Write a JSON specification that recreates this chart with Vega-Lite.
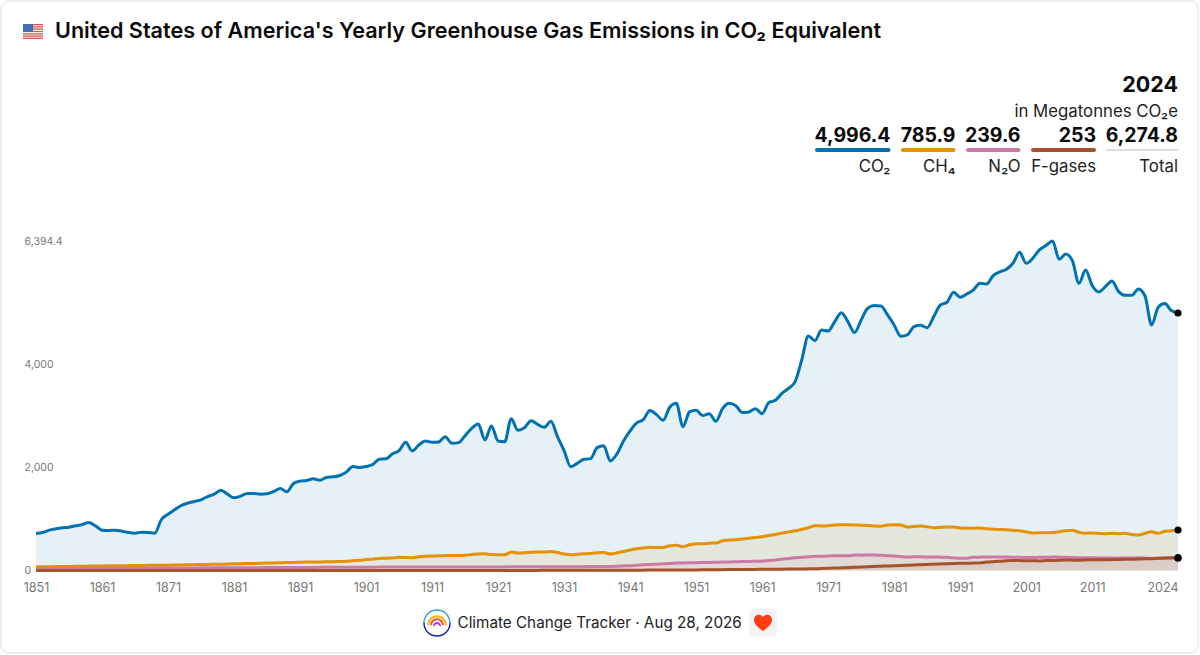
{
  "$schema": "https://vega.github.io/schema/vega-lite/v6.json",
  "width": 1142,
  "height": 329.5,
  "autosize": "none",
  "padding": {"left": 36, "top": 241, "right": 22, "bottom": 84.5},
  "background": "#ffffff",
  "view": {"stroke": null},
  "title": {
    "text": "United States of America's Yearly Greenhouse Gas Emissions in CO₂ Equivalent",
    "anchor": "start",
    "frame": "group",
    "offset": 0,
    "dy": 43,
    "dx": 19,
    "font": "Inter",
    "fontSize": 21.6,
    "fontWeight": 600,
    "color": "#0b0b0b"
  },
  "config": {"font": "Inter", "text": {"font": "Inter"}},
  "datasets": {
    "emissions": [
      {"year":1851,"co2":718,"ch4":71,"n2o":40,"fgas":0},{"year":1852,"co2":738,"ch4":72,"n2o":40,"fgas":0},{"year":1853,"co2":783,"ch4":74,"n2o":41,"fgas":0},{"year":1854,"co2":809,"ch4":76,"n2o":41,"fgas":0},{"year":1855,"co2":828,"ch4":78,"n2o":42,"fgas":0},{"year":1856,"co2":841,"ch4":79,"n2o":42,"fgas":0},{"year":1857,"co2":867,"ch4":81,"n2o":42,"fgas":0},{"year":1858,"co2":893,"ch4":83,"n2o":43,"fgas":0},{"year":1859,"co2":932,"ch4":85,"n2o":43,"fgas":0},{"year":1860,"co2":867,"ch4":87,"n2o":44,"fgas":0},
      {"year":1861,"co2":783,"ch4":88,"n2o":44,"fgas":0},{"year":1862,"co2":776,"ch4":90,"n2o":44,"fgas":0},{"year":1863,"co2":783,"ch4":92,"n2o":45,"fgas":0},{"year":1864,"co2":763,"ch4":93,"n2o":45,"fgas":0},{"year":1865,"co2":738,"ch4":95,"n2o":46,"fgas":0},{"year":1866,"co2":725,"ch4":96,"n2o":46,"fgas":0},{"year":1867,"co2":744,"ch4":98,"n2o":46,"fgas":0},{"year":1868,"co2":738,"ch4":100,"n2o":47,"fgas":0},{"year":1869,"co2":725,"ch4":101,"n2o":47,"fgas":0},{"year":1870,"co2":990,"ch4":103,"n2o":48,"fgas":0},
      {"year":1871,"co2":1093,"ch4":104,"n2o":48,"fgas":0},{"year":1872,"co2":1178,"ch4":106,"n2o":49,"fgas":0},{"year":1873,"co2":1262,"ch4":109,"n2o":49,"fgas":0},{"year":1874,"co2":1307,"ch4":111,"n2o":50,"fgas":0},{"year":1875,"co2":1339,"ch4":113,"n2o":50,"fgas":0},{"year":1876,"co2":1372,"ch4":116,"n2o":51,"fgas":0},{"year":1877,"co2":1436,"ch4":118,"n2o":51,"fgas":0},{"year":1878,"co2":1482,"ch4":120,"n2o":52,"fgas":0},{"year":1879,"co2":1559,"ch4":122,"n2o":52,"fgas":0},{"year":1880,"co2":1482,"ch4":125,"n2o":53,"fgas":0},
      {"year":1881,"co2":1410,"ch4":129,"n2o":53,"fgas":0},{"year":1882,"co2":1443,"ch4":132,"n2o":54,"fgas":0},{"year":1883,"co2":1495,"ch4":135,"n2o":54,"fgas":0},{"year":1884,"co2":1495,"ch4":138,"n2o":55,"fgas":0},{"year":1885,"co2":1482,"ch4":141,"n2o":55,"fgas":0},{"year":1886,"co2":1488,"ch4":144,"n2o":56,"fgas":0},{"year":1887,"co2":1533,"ch4":147,"n2o":56,"fgas":0},{"year":1888,"co2":1592,"ch4":150,"n2o":57,"fgas":0},{"year":1889,"co2":1527,"ch4":153,"n2o":57,"fgas":0},{"year":1890,"co2":1689,"ch4":157,"n2o":58,"fgas":0},
      {"year":1891,"co2":1734,"ch4":162,"n2o":59,"fgas":0},{"year":1892,"co2":1747,"ch4":164,"n2o":59,"fgas":0},{"year":1893,"co2":1779,"ch4":166,"n2o":60,"fgas":0},{"year":1894,"co2":1753,"ch4":167,"n2o":61,"fgas":0},{"year":1895,"co2":1805,"ch4":168,"n2o":61,"fgas":0},{"year":1896,"co2":1818,"ch4":170,"n2o":62,"fgas":0},{"year":1897,"co2":1844,"ch4":175,"n2o":63,"fgas":0},{"year":1898,"co2":1909,"ch4":180,"n2o":63,"fgas":0},{"year":1899,"co2":2019,"ch4":190,"n2o":64,"fgas":0},{"year":1900,"co2":1999,"ch4":200,"n2o":65,"fgas":0},
      {"year":1901,"co2":2019,"ch4":213,"n2o":65,"fgas":1},{"year":1902,"co2":2057,"ch4":220,"n2o":65,"fgas":1},{"year":1903,"co2":2161,"ch4":235,"n2o":66,"fgas":1},{"year":1904,"co2":2167,"ch4":237,"n2o":66,"fgas":1},{"year":1905,"co2":2264,"ch4":245,"n2o":66,"fgas":1},{"year":1906,"co2":2325,"ch4":255,"n2o":66,"fgas":1},{"year":1907,"co2":2488,"ch4":250,"n2o":66,"fgas":1},{"year":1908,"co2":2320,"ch4":248,"n2o":66,"fgas":1},{"year":1909,"co2":2436,"ch4":265,"n2o":67,"fgas":1},{"year":1910,"co2":2514,"ch4":275,"n2o":67,"fgas":1},
      {"year":1911,"co2":2488,"ch4":281,"n2o":67,"fgas":1},{"year":1912,"co2":2494,"ch4":285,"n2o":67,"fgas":1},{"year":1913,"co2":2598,"ch4":288,"n2o":68,"fgas":1},{"year":1914,"co2":2468,"ch4":292,"n2o":68,"fgas":1},{"year":1915,"co2":2481,"ch4":290,"n2o":68,"fgas":1},{"year":1916,"co2":2617,"ch4":295,"n2o":68,"fgas":1},{"year":1917,"co2":2760,"ch4":310,"n2o":69,"fgas":1},{"year":1918,"co2":2844,"ch4":320,"n2o":69,"fgas":1},{"year":1919,"co2":2533,"ch4":325,"n2o":69,"fgas":1},{"year":1920,"co2":2805,"ch4":310,"n2o":70,"fgas":2},
      {"year":1921,"co2":2514,"ch4":307,"n2o":70,"fgas":2},{"year":1922,"co2":2501,"ch4":305,"n2o":70,"fgas":2},{"year":1923,"co2":2947,"ch4":359,"n2o":71,"fgas":2},{"year":1924,"co2":2721,"ch4":340,"n2o":71,"fgas":2},{"year":1925,"co2":2773,"ch4":345,"n2o":71,"fgas":2},{"year":1926,"co2":2908,"ch4":355,"n2o":72,"fgas":2},{"year":1927,"co2":2837,"ch4":359,"n2o":72,"fgas":2},{"year":1928,"co2":2779,"ch4":358,"n2o":73,"fgas":3},{"year":1929,"co2":2895,"ch4":370,"n2o":73,"fgas":3},{"year":1930,"co2":2598,"ch4":350,"n2o":74,"fgas":3},
      {"year":1931,"co2":2327,"ch4":320,"n2o":74,"fgas":3},{"year":1932,"co2":2015,"ch4":307,"n2o":74,"fgas":3},{"year":1933,"co2":2080,"ch4":315,"n2o":75,"fgas":3},{"year":1934,"co2":2158,"ch4":325,"n2o":75,"fgas":4},{"year":1935,"co2":2171,"ch4":330,"n2o":76,"fgas":4},{"year":1936,"co2":2384,"ch4":345,"n2o":77,"fgas":4},{"year":1937,"co2":2423,"ch4":350,"n2o":78,"fgas":4},{"year":1938,"co2":2126,"ch4":320,"n2o":80,"fgas":5},{"year":1939,"co2":2262,"ch4":340,"n2o":84,"fgas":5},{"year":1940,"co2":2514,"ch4":370,"n2o":89,"fgas":6},
      {"year":1941,"co2":2708,"ch4":398,"n2o":94,"fgas":6},{"year":1942,"co2":2863,"ch4":420,"n2o":102,"fgas":7},{"year":1943,"co2":2928,"ch4":435,"n2o":110,"fgas":7},{"year":1944,"co2":3103,"ch4":450,"n2o":117,"fgas":8},{"year":1945,"co2":3025,"ch4":445,"n2o":122,"fgas":8},{"year":1946,"co2":2915,"ch4":448,"n2o":130,"fgas":9},{"year":1947,"co2":3168,"ch4":482,"n2o":138,"fgas":9},{"year":1948,"co2":3245,"ch4":490,"n2o":144,"fgas":10},{"year":1949,"co2":2792,"ch4":463,"n2o":147,"fgas":11},{"year":1950,"co2":3077,"ch4":500,"n2o":150,"fgas":11},
      {"year":1951,"co2":3109,"ch4":521,"n2o":152,"fgas":12},{"year":1952,"co2":3006,"ch4":520,"n2o":155,"fgas":13},{"year":1953,"co2":3044,"ch4":530,"n2o":157,"fgas":14},{"year":1954,"co2":2895,"ch4":535,"n2o":160,"fgas":15},{"year":1955,"co2":3141,"ch4":579,"n2o":163,"fgas":16},{"year":1956,"co2":3245,"ch4":590,"n2o":166,"fgas":17},{"year":1957,"co2":3200,"ch4":595,"n2o":170,"fgas":18},{"year":1958,"co2":3064,"ch4":610,"n2o":173,"fgas":19},{"year":1959,"co2":3077,"ch4":625,"n2o":177,"fgas":20},{"year":1960,"co2":3141,"ch4":640,"n2o":180,"fgas":21},
      {"year":1961,"co2":3044,"ch4":657,"n2o":184,"fgas":23},{"year":1962,"co2":3258,"ch4":680,"n2o":195,"fgas":24},{"year":1963,"co2":3303,"ch4":700,"n2o":205,"fgas":25},{"year":1964,"co2":3439,"ch4":725,"n2o":218,"fgas":26},{"year":1965,"co2":3536,"ch4":750,"n2o":235,"fgas":27},{"year":1966,"co2":3665,"ch4":770,"n2o":248,"fgas":28},{"year":1967,"co2":4086,"ch4":799,"n2o":255,"fgas":29},{"year":1968,"co2":4552,"ch4":830,"n2o":265,"fgas":32},{"year":1969,"co2":4461,"ch4":870,"n2o":275,"fgas":35},{"year":1970,"co2":4668,"ch4":865,"n2o":278,"fgas":38},
      {"year":1971,"co2":4649,"ch4":870,"n2o":281,"fgas":42},{"year":1972,"co2":4830,"ch4":885,"n2o":288,"fgas":47},{"year":1973,"co2":5004,"ch4":890,"n2o":284,"fgas":52},{"year":1974,"co2":4830,"ch4":888,"n2o":285,"fgas":57},{"year":1975,"co2":4617,"ch4":883,"n2o":301,"fgas":62},{"year":1976,"co2":4862,"ch4":880,"n2o":298,"fgas":67},{"year":1977,"co2":5089,"ch4":875,"n2o":300,"fgas":72},{"year":1978,"co2":5141,"ch4":865,"n2o":301,"fgas":78},{"year":1979,"co2":5134,"ch4":857,"n2o":295,"fgas":84},{"year":1980,"co2":4959,"ch4":885,"n2o":288,"fgas":89},
      {"year":1981,"co2":4765,"ch4":890,"n2o":281,"fgas":94},{"year":1982,"co2":4545,"ch4":885,"n2o":270,"fgas":99},{"year":1983,"co2":4571,"ch4":844,"n2o":262,"fgas":103},{"year":1984,"co2":4733,"ch4":855,"n2o":265,"fgas":108},{"year":1985,"co2":4759,"ch4":864,"n2o":265,"fgas":113},{"year":1986,"co2":4713,"ch4":850,"n2o":262,"fgas":118},{"year":1987,"co2":4927,"ch4":831,"n2o":262,"fgas":123},{"year":1988,"co2":5153,"ch4":838,"n2o":258,"fgas":127},{"year":1989,"co2":5205,"ch4":845,"n2o":255,"fgas":131},{"year":1990,"co2":5399,"ch4":844,"n2o":245,"fgas":135},
      {"year":1991,"co2":5302,"ch4":825,"n2o":236,"fgas":139},{"year":1992,"co2":5367,"ch4":818,"n2o":240,"fgas":142},{"year":1993,"co2":5444,"ch4":822,"n2o":255,"fgas":144},{"year":1994,"co2":5574,"ch4":825,"n2o":258,"fgas":148},{"year":1995,"co2":5561,"ch4":810,"n2o":262,"fgas":165},{"year":1996,"co2":5723,"ch4":799,"n2o":262,"fgas":172},{"year":1997,"co2":5794,"ch4":795,"n2o":260,"fgas":178},{"year":1998,"co2":5846,"ch4":793,"n2o":260,"fgas":190},{"year":1999,"co2":5962,"ch4":780,"n2o":258,"fgas":195},{"year":2000,"co2":6175,"ch4":773,"n2o":258,"fgas":195},
      {"year":2001,"co2":5962,"ch4":750,"n2o":250,"fgas":188},{"year":2002,"co2":6059,"ch4":728,"n2o":252,"fgas":190},{"year":2003,"co2":6221,"ch4":732,"n2o":255,"fgas":186},{"year":2004,"co2":6305,"ch4":734,"n2o":255,"fgas":192},{"year":2005,"co2":6394.4,"ch4":736,"n2o":262,"fgas":193},{"year":2006,"co2":6040,"ch4":754,"n2o":258,"fgas":197},{"year":2007,"co2":6144,"ch4":770,"n2o":258,"fgas":204},{"year":2008,"co2":6014,"ch4":780,"n2o":250,"fgas":200},{"year":2009,"co2":5574,"ch4":741,"n2o":246,"fgas":198},{"year":2010,"co2":5833,"ch4":721,"n2o":249,"fgas":205},
      {"year":2011,"co2":5529,"ch4":730,"n2o":249,"fgas":210},{"year":2012,"co2":5406,"ch4":721,"n2o":245,"fgas":210},{"year":2013,"co2":5509,"ch4":715,"n2o":245,"fgas":208},{"year":2014,"co2":5619,"ch4":725,"n2o":245,"fgas":212},{"year":2015,"co2":5412,"ch4":715,"n2o":244,"fgas":214},{"year":2016,"co2":5341,"ch4":721,"n2o":242,"fgas":216},{"year":2017,"co2":5341,"ch4":700,"n2o":242,"fgas":218},{"year":2018,"co2":5464,"ch4":689,"n2o":246,"fgas":222},{"year":2019,"co2":5328,"ch4":720,"n2o":240,"fgas":226},{"year":2020,"co2":4765,"ch4":754,"n2o":235,"fgas":230},
      {"year":2021,"co2":5108,"ch4":721,"n2o":238,"fgas":236},{"year":2022,"co2":5180,"ch4":760,"n2o":240,"fgas":241},{"year":2023,"co2":5044,"ch4":770,"n2o":238,"fgas":248},{"year":2024,"co2":4996.4,"ch4":785.9,"n2o":239.6,"fgas":253}
    ],
    "table": [
      {"series":"CO₂","amount":"4,996.4","from":6,"to":7},
      {"series":"CH₄","amount":"785.9","from":8,"to":9},
      {"series":"N₂O","amount":"239.6","from":10,"to":11},
      {"series":"F-gases","amount":"253","from":12,"to":13},
      {"series":"Total","amount":"6,274.8","from":14,"to":15}
    ],
    "icons": [
      {"part":"heart tile","col":5,"line":8},
      {"part":"heart","col":5,"line":8},
      {"part":"flag red","col":2,"line":2},
      {"part":"flag white","col":2,"line":2},
      {"part":"flag blue","col":2,"line":2},
      {"part":"ring top","col":3,"line":8},
      {"part":"ring bottom","col":3,"line":8},
      {"part":"arc outer","col":3,"line":8},
      {"part":"arc middle","col":3,"line":8},
      {"part":"arc inner","col":3,"line":8}
    ]
  },
  "layer": [
    {
      "data": {"name": "emissions"},
      "encoding": {
        "x": {
          "field": "year",
          "type": "quantitative",
          "scale": {"domain": [1851, 2024], "nice": false, "zero": false},
          "axis": {
            "title": null,
            "values": [1851,1861,1871,1881,1891,1901,1911,1921,1931,1941,1951,1961,1971,1981,1991,2001,2011,2024],
            "format": "d",
            "domain": false,
            "ticks": false,
            "grid": false,
            "labelFont": "Inter",
            "labelFontSize": 12.5,
            "labelColor": "#777777",
            "labelPadding": 11,
            "labelOverlap": false,
            "labelAlign": {"condition": {"test": "datum.value == 2024", "value": "right"}, "value": "center"}
          }
        }
      },
      "layer": [
        {
          "mark": {"type": "area", "interpolate": "monotone", "color": "#0072b2", "opacity": 0.1},
          "encoding": {
            "y": {
              "field": "co2",
              "type": "quantitative",
              "scale": {"domain": [0, 6394.4], "nice": false},
              "axis": {
                "title": null,
                "values": [0, 2000, 4000, 6394.4],
                "format": ",.1~f",
                "domain": false,
                "ticks": false,
                "grid": false,
                "labelFont": "Inter",
                "labelFontSize": 10.5,
                "labelColor": "#777777",
                "labelAlign": "left",
                "labelPadding": 12
              }
            }
          }
        },
        {"mark": {"type": "area", "interpolate": "monotone", "color": "#e69100", "opacity": 0.1}, "encoding": {"y": {"field": "ch4", "type": "quantitative"}}},
        {"mark": {"type": "area", "interpolate": "monotone", "color": "#cc79a7", "opacity": 0.1}, "encoding": {"y": {"field": "n2o", "type": "quantitative"}}},
        {"mark": {"type": "area", "interpolate": "monotone", "color": "#a6522b", "opacity": 0.1}, "encoding": {"y": {"field": "fgas", "type": "quantitative"}}},
        {"mark": {"type": "line", "interpolate": "monotone", "color": "#0072b2", "strokeWidth": 3}, "encoding": {"y": {"field": "co2", "type": "quantitative"}}},
        {"mark": {"type": "line", "interpolate": "monotone", "color": "#e69100", "strokeWidth": 3}, "encoding": {"y": {"field": "ch4", "type": "quantitative"}}},
        {"mark": {"type": "line", "interpolate": "monotone", "color": "#cc79a7", "strokeWidth": 3}, "encoding": {"y": {"field": "n2o", "type": "quantitative"}}},
        {"mark": {"type": "line", "interpolate": "monotone", "color": "#a6522b", "strokeWidth": 3}, "encoding": {"y": {"field": "fgas", "type": "quantitative"}}},
        {"transform": [{"filter": "datum.year == 2024"}], "mark": {"type": "circle", "color": "#000000", "size": 50, "opacity": 1}, "encoding": {"y": {"field": "co2", "type": "quantitative"}}},
        {"transform": [{"filter": "datum.year == 2024"}], "mark": {"type": "circle", "color": "#000000", "size": 50, "opacity": 1}, "encoding": {"y": {"field": "ch4", "type": "quantitative"}}},
        {"transform": [{"filter": "datum.year == 2024"}], "mark": {"type": "circle", "color": "#000000", "size": 50, "opacity": 1}, "encoding": {"y": {"field": "n2o", "type": "quantitative"}}},
        {"transform": [{"filter": "datum.year == 2024"}], "mark": {"type": "circle", "color": "#000000", "size": 50, "opacity": 1}, "encoding": {"y": {"field": "fgas", "type": "quantitative"}}}
      ]
    },
    {
      "layer": [
        {
          "data": {"values": [{"left": 1, "right": 16, "top": 1, "bottom": 9}]},
          "mark": {"type": "rect", "fill": null, "stroke": "#eeeeee", "strokeWidth": 2, "cornerRadius": 8},
          "encoding": {
            "x": {
              "field": "left",
              "type": "quantitative",
              "axis": null,
              "scale": {
                "domain": [1, 2, 3, 4, 5, 6, 7, 8, 9, 10, 11, 12, 13, 14, 15, 16],
                "range": [-35, -3, 401, 421.5, 727, 779, 854.5, 865, 919.5, 930, 984.5, 995, 1060, 1070, 1142, 1162],
                "zero": false,
                "nice": false
              }
            },
            "x2": {"field": "right"},
            "y": {
              "field": "top",
              "type": "quantitative",
              "axis": null,
              "scale": {
                "domain": [1, 2, 3, 4, 5, 6, 7, 8, 9],
                "range": [-240, -209.5, -155.5, -129.5, -105.5, -91, -74, 382, 412],
                "zero": false,
                "nice": false
              }
            },
            "y2": {"field": "bottom"}
          }
        },
        {
          "data": {"name": "icons"},
          "mark": {"type": "point", "filled": true, "opacity": 1, "strokeWidth": 0, "size": 900},
          "encoding": {
            "x": {"field": "col", "type": "quantitative"},
            "y": {"field": "line", "type": "quantitative"},
            "color": {
              "field": "part",
              "type": "nominal",
              "legend": null,
              "sort": null,
              "scale": {
                "domain": ["heart tile", "heart", "flag red", "flag white", "flag blue", "ring top", "ring bottom", "arc outer", "arc middle", "arc inner", "CO₂", "CH₄", "N₂O", "F-gases"],
                "range": ["#f3f3f3", "#ff3b12", "#d9534f", "#f4f0f0", "#3f6fb5", "#35a4e8", "#1a22c8", "#fbb31a", "#f0523c", "#b23cd6", "#0072b2", "#e69100", "#cc79a7", "#a6522b"]
              }
            },
            "shape": {
              "field": "part",
              "type": "nominal",
              "legend": null,
              "sort": null,
              "scale": {
                "domain": ["heart tile", "heart", "flag red", "flag white", "flag blue", "ring top", "ring bottom", "arc outer", "arc middle", "arc inner"],
                "range": [
                  "M-.6 -.95H.6Q.93 -.95 .93 -.62V.62Q.93 .95 .6 .95H-.6Q-.93 .95 -.93 .62V-.62Q-.93 -.95 -.6 -.95Z",
                  "M0 .55C-.25 .35 -.6 .1 -.6 -.2C-.6 -.42 -.43 -.55 -.27 -.55C-.14 -.55 -.05 -.48 0 -.38C.05 -.48 .14 -.55 .27 -.55C.43 -.55 .6 -.42 .6 -.2C.6 .1 .25 .35 0 .55Z",
                  "M-.667 -.5H.667V.5H-.667Z",
                  "M-.667 -.423H.667V-.346H-.667ZM-.667 -.269H.667V-.192H-.667ZM-.667 -.115H.667V-.038H-.667ZM-.667 .038H.667V.115H-.667ZM-.667 .192H.667V.269H-.667ZM-.667 .346H.667V.423H-.667Z",
                  "M-.667 -.5H0V.03H-.667Z",
                  "M-.92 0A.92 .92 0 0 1 .92 0H.82A.82 .82 0 0 0 -.82 0Z",
                  "M-.92 0A.92 .92 0 0 0 .92 0H.82A.82 .82 0 0 1 -.82 0Z",
                  "M-.66 .15A.66 .66 0 0 1 .66 .15H.52A.52 .52 0 0 0 -.52 .15Z",
                  "M-.46 .15A.46 .46 0 0 1 .46 .15H.33A.33 .33 0 0 0 -.33 .15Z",
                  "M-.27 .2A.27 .27 0 0 1 .27 .2H.14A.14 .14 0 0 0 -.14 .2Z"
                ]
              }
            }
          }
        },
        {
          "data": {"name": "table"},
          "transform": [{"filter": "datum.series != 'Total'"}],
          "mark": {"type": "rect", "height": 4, "cornerRadius": 2},
          "encoding": {
            "x": {"field": "from", "type": "quantitative"},
            "x2": {"field": "to"},
            "y": {"datum": 6, "type": "quantitative"},
            "color": {"field": "series", "type": "nominal", "legend": null}
          }
        },
        {
          "data": {"name": "table"},
          "transform": [{"filter": "datum.series == 'Total'"}],
          "mark": {"type": "rect", "height": 2, "color": "#dddddd"},
          "encoding": {
            "x": {"field": "from", "type": "quantitative"},
            "x2": {"field": "to"},
            "y": {"datum": 6, "type": "quantitative"}
          }
        },
        {
          "data": {"name": "table"},
          "mark": {"type": "text", "align": "right", "baseline": "middle", "font": "Inter", "fontSize": 19.5, "fontWeight": 700, "color": "#0b0b0b"},
          "encoding": {
            "x": {"field": "to", "type": "quantitative"},
            "y": {"datum": 5, "type": "quantitative"},
            "text": {"field": "amount"}
          }
        },
        {
          "data": {"name": "table"},
          "mark": {"type": "text", "align": "right", "baseline": "middle", "font": "Inter", "fontSize": 16.8, "color": "#222222"},
          "encoding": {
            "x": {"field": "to", "type": "quantitative"},
            "y": {"datum": 7, "type": "quantitative"},
            "text": {"field": "series"}
          }
        },
        {
          "data": {"values": [{"label": "2024", "col": 15, "line": 3}]},
          "mark": {"type": "text", "align": "right", "baseline": "middle", "font": "Inter", "fontSize": 21.5, "fontWeight": 700, "color": "#0b0b0b"},
          "encoding": {
            "x": {"field": "col", "type": "quantitative"},
            "y": {"field": "line", "type": "quantitative"},
            "text": {"field": "label"}
          }
        },
        {
          "data": {"values": [{"label": "in Megatonnes CO₂e", "col": 15, "line": 4}]},
          "mark": {"type": "text", "align": "right", "baseline": "middle", "font": "Inter", "fontSize": 16.8, "color": "#222222"},
          "encoding": {
            "x": {"field": "col", "type": "quantitative"},
            "y": {"field": "line", "type": "quantitative"},
            "text": {"field": "label"}
          }
        },
        {
          "data": {"values": [{"label": "Climate Change Tracker · Aug 28, 2026", "col": 4, "line": 8}]},
          "mark": {"type": "text", "align": "left", "baseline": "middle", "font": "Inter", "fontSize": 15.25, "color": "#222222"},
          "encoding": {
            "x": {"field": "col", "type": "quantitative"},
            "y": {"field": "line", "type": "quantitative"},
            "text": {"field": "label"}
          }
        }
      ]
    }
  ],
  "resolve": {"scale": {"x": "independent", "y": "independent"}, "axis": {"x": "independent", "y": "independent"}}
}
